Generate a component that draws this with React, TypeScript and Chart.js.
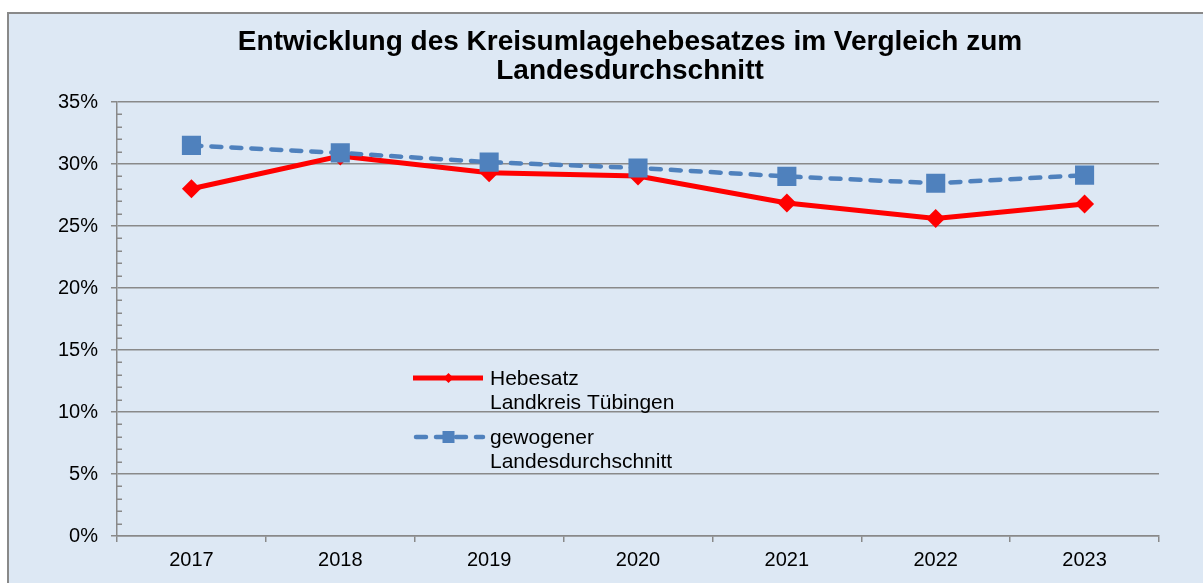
import React, { useEffect, useRef } from "react";
import { Chart, registerables } from "chart.js";

Chart.register(...registerables);

const titleLines = [
  "Entwicklung des Kreisumlagehebesatzes im Vergleich zum",
  "Landesdurchschnitt",
];
const categories = ["2017", "2018", "2019", "2020", "2021", "2022", "2023"];
const hebesatzLabel = ["Hebesatz", "Landkreis Tübingen"];
const hebesatz = [28.0, 30.65, 29.3, 29.03, 26.85, 25.6, 26.78];
const landesLabel = ["gewogener", "Landesdurchschnitt"];
const landesdurchschnitt = [31.5, 30.9, 30.15, 29.68, 29.0, 28.45, 29.1];
const yTicksMax = 35;
const yStep = 5;
const yMinorStep = 1;

const RED = "#FF0000";
const BLUE = "#4F81BD";
const GRID = "#898989";
const BG = "#DDE8F4";
const FONT = "Arial, 'Liberation Sans', sans-serif";

const panelPlugin = {
  id: "panel",
  beforeDraw(chart: any) {
    const { ctx, width, height } = chart;
    ctx.save();
    ctx.fillStyle = "#FFFFFF";
    ctx.fillRect(0, 0, width, height);
    ctx.fillStyle = BG;
    ctx.fillRect(7, 12, width - 7, height - 12);
    ctx.strokeStyle = GRID;
    ctx.lineWidth = 2;
    ctx.beginPath();
    ctx.moveTo(8, height);
    ctx.lineTo(8, 13);
    ctx.lineTo(width, 13);
    ctx.stroke();
    // title
    ctx.fillStyle = "#000000";
    ctx.font = `bold 28px ${FONT}`;
    ctx.textAlign = "center";
    ctx.textBaseline = "alphabetic";
    titleLines.forEach((t, i) => ctx.fillText(t, 630, 50 + i * 29));
    ctx.restore();
  },
  afterDraw(chart: any) {
    const { ctx } = chart;
    const y = chart.scales.y;
    ctx.save();
    // minor ticks
    ctx.strokeStyle = GRID;
    ctx.lineWidth = 1.5;
    for (let v = 0; v <= yTicksMax; v += yMinorStep) {
      if (v % yStep === 0) continue;
      const py = Math.round(y.getPixelForValue(v)) + 0.25;
      ctx.beginPath();
      ctx.moveTo(y.right, py);
      ctx.lineTo(y.right + 5, py);
      ctx.stroke();
    }
    ctx.restore();
  },
};

const legendPlugin = {
  id: "customLegend",
  afterDatasetsDraw(chart: any) {
    const { ctx } = chart;
    const ds = chart.data.datasets;
    const x0 = 413;
    const x1 = 483;
    const tx = 490;
    const rows = [
      { d: ds[1], y: 378 },
      { d: ds[0], y: 437 },
    ];
    ctx.save();
    rows.forEach(({ d, y }) => {
      ctx.strokeStyle = d.borderColor;
      ctx.lineWidth = d.borderWidth;
      ctx.lineCap = d.borderCapStyle || "butt";
      ctx.setLineDash(d.borderDash || []);
      ctx.beginPath();
      ctx.moveTo(x0 + (d.borderDash ? 3 : 0), y);
      ctx.lineTo(x1, y);
      ctx.stroke();
      ctx.setLineDash([]);
      ctx.fillStyle = d.pointBackgroundColor;
      const cx = (x0 + x1) / 2 + 0.5;
      ctx.beginPath();
      if (d.pointStyle === "rectRot") {
        const r = 5;
        ctx.moveTo(cx - r, y);
        ctx.lineTo(cx, y - r);
        ctx.lineTo(cx + r, y);
        ctx.lineTo(cx, y + r);
      } else {
        const s = 6;
        ctx.rect(cx - s, y - s, 2 * s, 2 * s);
      }
      ctx.closePath();
      ctx.fill();
      ctx.fillStyle = "#000000";
      ctx.font = `21px ${FONT}`;
      ctx.textAlign = "left";
      ctx.textBaseline = "middle";
      const lines: string[] = d.legendLines;
      lines.forEach((t, i) => ctx.fillText(t, tx, y + 1 + i * 24));
    });
    ctx.restore();
  },
};

export default function App() {
  const ref = useRef<HTMLCanvasElement>(null);
  useEffect(() => {
    if (!ref.current) return;
    const chart = new Chart(ref.current, {
      type: "line",
      data: {
        labels: categories,
        datasets: [
          {
            label: landesLabel.join(" "),
            legendLines: landesLabel,
            data: landesdurchschnitt,
            borderColor: BLUE,
            backgroundColor: BLUE,
            pointBackgroundColor: BLUE,
            pointBorderColor: BLUE,
            borderWidth: 4.5,
            borderDash: [10, 10],
            borderCapStyle: "round",
            pointStyle: "rect",
            pointRadius: 13.5,
            pointBorderWidth: 0,
            pointHoverRadius: 13.5,
            tension: 0,
            order: 0,
          } as any,
          {
            label: hebesatzLabel.join(" "),
            legendLines: hebesatzLabel,
            data: hebesatz,
            borderColor: RED,
            backgroundColor: RED,
            pointBackgroundColor: RED,
            pointBorderColor: RED,
            borderWidth: 5,
            pointStyle: "rectRot",
            pointRadius: 9.5,
            pointBorderWidth: 0,
            pointHoverRadius: 9.5,
            tension: 0,
            order: 1,
          } as any,
        ],
      },
      options: {
        responsive: false,
        animation: false,
        events: [],
        layout: { padding: { left: 0, top: 102, right: 44, bottom: 0 } },
        plugins: {
          legend: { display: false },
          title: { display: false },
          tooltip: { enabled: false },
        },
        scales: {
          x: {
            type: "category",
            offset: true,
            afterFit(s: any) {
              s.height = 47;
            },
            grid: {
              offset: true,
              drawOnChartArea: false,
              drawTicks: true,
              tickLength: 6,
              color: GRID,
              lineWidth: 1.5,
            },
            border: { display: true, color: GRID, width: 1.5 },
            ticks: {
              color: "#000000",
              font: { family: FONT, size: 20 },
              padding: 6,
              maxRotation: 0,
            },
          },
          y: {
            type: "linear",
            min: 0,
            max: yTicksMax,
            afterFit(s: any) {
              s.width = 117;
            },
            grid: {
              color: GRID,
              lineWidth: 1.5,
              drawTicks: true,
              tickLength: 6,
            },
            border: { display: true, color: GRID, width: 1.5 },
            ticks: {
              stepSize: yStep,
              color: "#000000",
              font: { family: FONT, size: 20 },
              padding: 13,
              callback: (v: any) => `${v}%`,
            },
          },
        },
      } as any,
      plugins: [panelPlugin, legendPlugin],
    });
    return () => chart.destroy();
  }, []);
  return (
    <div style={{ position: "fixed", left: 0, top: 0, width: 1203, height: 583 }}>
      <canvas ref={ref} width={1203} height={583} style={{ display: "block" }} />
    </div>
  );
}
